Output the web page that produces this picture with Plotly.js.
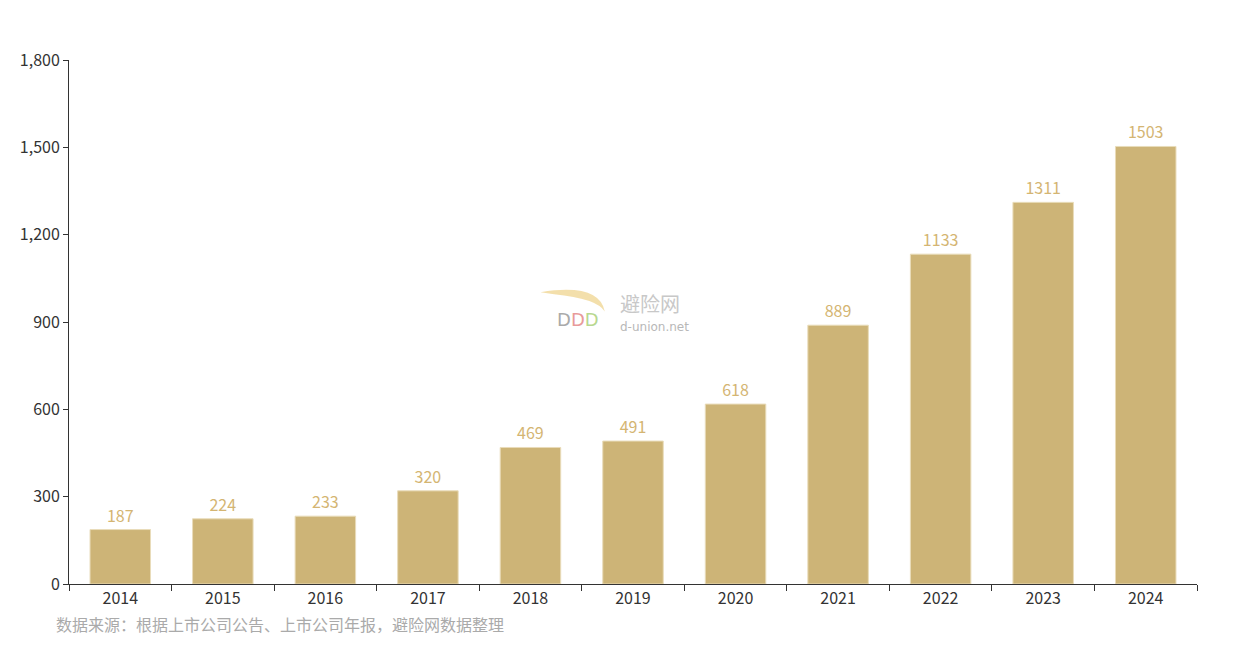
<!DOCTYPE html>
<html>
<head>
<meta charset="utf-8">
<script src="https://cdn.plot.ly/plotly-3.0.1.min.js"></script>
<style>
  html, body { margin: 0; padding: 0; background: #fff; }
  #chart { width: 1247px; height: 658px; }
</style>
</head>
<body>
<div id="chart"></div>
<script>
var years = ['2014', '2015', '2016', '2017', '2018', '2019', '2020', '2021', '2022', '2023', '2024'];
var counts = [187, 224, 233, 320, 469, 491, 618, 889, 1133, 1311, 1503];
var yTicks = [0, 300, 600, 900, 1200, 1500, 1800];
var sourceNote = '数据来源：根据上市公司公告、上市公司年报，避险网数据整理';

var font = '"Microsoft YaHei", "Noto Sans CJK SC", sans-serif';

var trace = {
    x: years,
    y: counts,
    type: 'bar',
    text: counts.map(String),
    textposition: 'outside',
    cliponaxis: false,
    textfont: { family: font, size: 16, color: '#d4b572' },
    marker: {
        color: '#cdb477',
        line: { color: '#e9dcba', width: 1 }
    },
    hoverinfo: 'x+y'
};

var layout = {
    width: 1247,
    height: 658,
    margin: { l: 69, r: 50, t: 60, b: 74 },
    paper_bgcolor: '#fff',
    plot_bgcolor: '#fff',
    bargap: 0.41,
    showlegend: false,
    font: { family: font, size: 16, color: '#333' },
    xaxis: {
        type: 'category',
        showline: true,
        linecolor: '#333',
        linewidth: 1,
        ticks: 'outside',
        tickson: 'boundaries',
        ticklen: 6,
        tickcolor: '#333',
        showgrid: false,
        zeroline: false,
        tickfont: { family: font, size: 16, color: '#333' }
    },
    yaxis: {
        range: [0, 1800],
        tickvals: yTicks,
        ticktext: yTicks.map(function (v) { return v.toLocaleString('en-US'); }),
        showline: true,
        linecolor: '#333',
        linewidth: 1,
        ticks: 'outside',
        ticklen: 5,
        tickcolor: '#333',
        showgrid: false,
        zeroline: false,
        tickfont: { family: font, size: 16, color: '#333' }
    },
    shapes: [
        // watermark swoosh
        {
            type: 'path', xref: 'paper', yref: 'paper',
            path: 'M 0.418 0.557 Q 0.470 0.575 0.475 0.520 Q 0.468 0.545 0.430 0.553 Z',
            fillcolor: 'rgba(240,215,150,0.8)', line: { width: 0 }
        }
    ],
    annotations: [
        {
            text: sourceNote,
            xref: 'paper', yref: 'paper',
            x: -0.013, y: -0.05,
            xanchor: 'left', yanchor: 'top',
            showarrow: false,
            font: { family: font, size: 16, color: '#aaa' }
        },
        {
            text: '避险网',
            xref: 'paper', yref: 'paper',
            x: 0.487, y: 0.535,
            xanchor: 'left', yanchor: 'middle',
            showarrow: false,
            font: { family: font, size: 20, color: '#c8c8c8' }
        },
        {
            text: 'd-union.net',
            xref: 'paper', yref: 'paper',
            x: 0.487, y: 0.49,
            xanchor: 'left', yanchor: 'middle',
            showarrow: false,
            font: { family: 'DejaVu Sans, sans-serif', size: 12, color: '#b8b8b8' }
        },
        {
            text: '<span style="color:#aaa">D</span><span style="color:#e89a9a">D</span><span style="color:#b8d890">D</span>',
            xref: 'paper', yref: 'paper',
            x: 0.451, y: 0.505,
            xanchor: 'center', yanchor: 'middle',
            showarrow: false,
            font: { family: 'DejaVu Sans, sans-serif', size: 18 }
        }
    ]
};

Plotly.newPlot('chart', [trace], layout, { displayModeBar: false, responsive: false });
</script>
</body>
</html>
